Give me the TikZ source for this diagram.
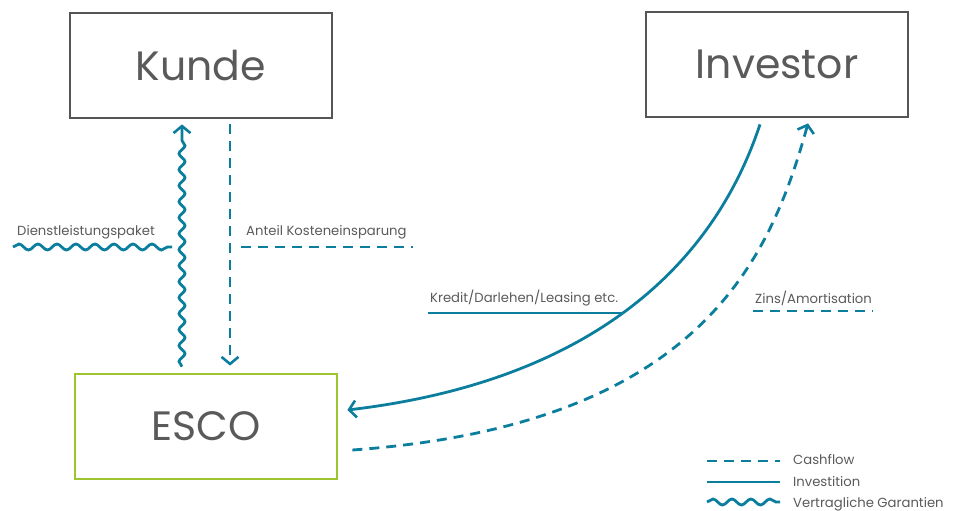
\documentclass[tikz,border=0pt]{standalone}
\usepackage{fontspec}
\setmainfont{Poppins}
\usetikzlibrary{arrows.meta,decorations.pathmorphing}
\definecolor{teal}{HTML}{0B7E9E}
\definecolor{boxgray}{HTML}{555555}
\definecolor{txtgray}{HTML}{5A5A5A}
\definecolor{escogreen}{HTML}{9DC62E}
\tikzset{
  party/.style={draw=boxgray, line width=2.8pt, minimum width=262pt, minimum height=105pt,
    inner sep=0pt, font=\fontsize{41}{45}\selectfont, text=txtgray},
  flow/.style={draw=teal, line width=2.8pt},
  cash/.style={flow, dash pattern=on 10pt off 7pt},
  wave/.style={flow, decorate, decoration={snake, amplitude=3pt, segment length=19pt}},
  tip/.style={-{Straight Barb[length=7pt, width=17pt, line width=2.6pt]}},
  lbl/.style={font=\fontsize{13.2}{15}\selectfont, text=txtgray, inner sep=0pt, anchor=base west},
}
\begin{document}
\begin{tikzpicture}[x=1pt, y=-1pt]
\useasboundingbox (0,0) rectangle (954,511);

% the three parties
\node[party] (kunde) at (201,65.5) {Kunde};
\node[party] (investor) at (777,64.5) {Investor};
\node[party, draw=escogreen] (esco) at (206,426.5) {ESCO};

% services: ESCO -> Kunde
\draw[wave, tip, decoration={post length=9pt, segment length=16pt}]
  ([xshift=-24pt, yshift=6pt]esco.north) -- ([xshift=-19pt, yshift=-5pt]kunde.south);
% share of savings: Kunde -> ESCO
\draw[cash, tip]
  ([xshift=29pt, yshift=-5pt]kunde.south) -- ([xshift=24pt, yshift=7pt]esco.north);

% investment: Investor -> ESCO
\draw[flow, tip]
  ([xshift=-17pt, yshift=-6pt]investor.south)
  .. controls (705,290) and (560,385) .. ([xshift=9pt, yshift=16.5pt]esco.east);
% repayment: ESCO -> Investor
\draw[cash, tip]
  ([xshift=14pt, yshift=-23.5pt]esco.east)
  .. controls (700,425) and (770,260) .. ([xshift=31pt, yshift=-5pt]investor.south);

% labels with their line samples
\node[lbl] (dl) at (17,235) {Dienstleistungspaket};
\coordinate (dlA) at (13,247); \coordinate (dlB) at (172,247);
\draw[wave] (dlA) -- (dlB);

\node[lbl] (ak) at (246,235) {Anteil Kosteneinsparung};
\coordinate (akA) at (241,247); \coordinate (akB) at (413,247);
\draw[cash] (akA) -- (akB);

\node[lbl] (kr) at (430,302) {Kredit/Darlehen/Leasing etc.};
\coordinate (krA) at (428,313); \coordinate (krB) at (624,313);
\draw[flow] (krA) -- (krB);

\node[lbl] (zi) at (755,303) {Zins/Amortisation};
\coordinate (ziA) at (753,311); \coordinate (ziB) at (873,311);
\draw[cash] (ziA) -- (ziB);

% legend
\coordinate (l1A) at (707,461); \coordinate (l1B) at (780,461);
\coordinate (l2A) at (707,482); \coordinate (l2B) at (780,482);
\coordinate (l3A) at (707,502); \coordinate (l3B) at (780,502);
\draw[cash] (l1A) -- (l1B);
\draw[flow] (l2A) -- (l2B);
\draw[wave] (l3A) -- (l3B);
\node[lbl] (lg1) at (793,464) {Cashflow};
\node[lbl] (lg2) at (793,486) {Investition};
\node[lbl] (lg3) at (793,507) {Vertragliche Garantien};
\end{tikzpicture}
\end{document}
